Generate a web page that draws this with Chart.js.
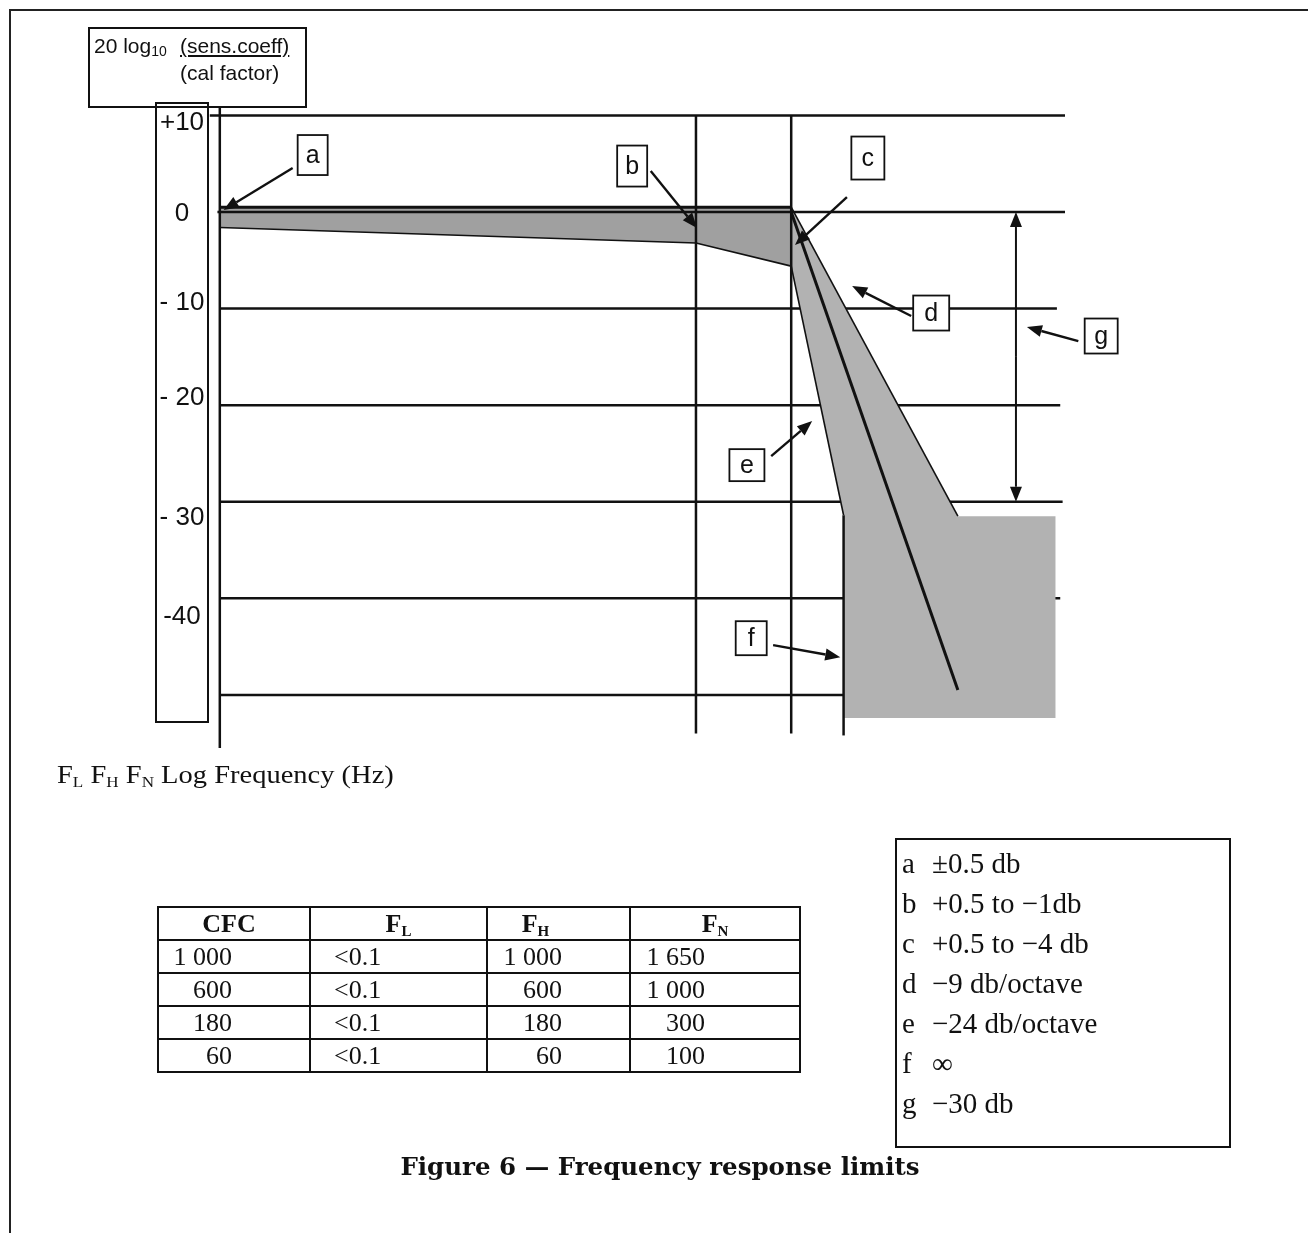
<!DOCTYPE html>
<html>
<head>
<meta charset="utf-8">
<title>Figure 6 — Frequency response limits</title>
<script src="https://cdn.jsdelivr.net/npm/chart.js@4.4.1/dist/chart.umd.min.js"></script>
<style>
  html, body { margin: 0; padding: 0; background: #fff; }
  body { position: relative; width: 1308px; height: 1233px; overflow: hidden; color: #111; }
  #frame-top { position: absolute; left: 9px; top: 9px; width: 1299px; height: 2px; background: #222; }
  #frame-left { position: absolute; left: 9px; top: 9px; width: 2px; height: 1224px; background: #222; }
  #plot { position: absolute; left: 0; top: 0; }
  #ylabel-box { position: absolute; left: 155px; top: 102px; width: 50px; height: 617px; border: 2px solid #111; }
  #header { position: absolute; left: 88px; top: 27px; width: 215px; height: 77px; border: 2px solid #111;
            font: 21px "Liberation Sans", Arial, sans-serif; }
  #header div { position: absolute; white-space: nowrap; line-height: 23px; }
  #header sub { font-size: 14px; vertical-align: -3px; line-height: 0; }
  #xlabel { position: absolute; left: 57px; top: 761px; white-space: nowrap; line-height: 26px;
            font: 25px "Liberation Serif", "Times New Roman", serif; transform-origin: 0 0; transform: scaleX(1.14); }
  #xlabel sub, #cfc sub { font-size: 15px; vertical-align: -4px; line-height: 0; }
  #cfc { position: absolute; left: 157px; top: 906px; width: 642px; table-layout: fixed; border-collapse: collapse;
         font: 26px "Liberation Serif", "Times New Roman", serif; }
  #cfc td, #cfc th { border: 2px solid #111; height: 31px; padding: 0; line-height: 31px; white-space: nowrap; }
  #cfc th { font-weight: bold; text-align: center; }
  #cfc td.c0 { text-align: right; padding-right: 77px; }
  #cfc td.c1 { text-align: left; padding-left: 23px; }
  #cfc td.c2 { text-align: right; padding-right: 67px; }
  #cfc td.c3 { text-align: right; padding-right: 94px; }
  #cfc th.h0 { padding-right: 10px; }
  #cfc th.h2 { padding-right: 46px; }
  #key { position: absolute; left: 895px; top: 838px; width: 332px; height: 303px; padding-top: 3px;
         border: 2px solid #111; font: 29px "Liberation Serif", "Times New Roman", serif; }
  #key div { height: 40px; line-height: 40px; white-space: nowrap; position: relative; }
  #key span.k { position: absolute; left: 5px; }
  #key span.t { position: absolute; left: 35px; }
  #caption { position: absolute; left: 0; width: 1320px; top: 1152px; text-align: center; line-height: 28px;
             font: bold 24.5px "DejaVu Serif", "Liberation Serif", serif; white-space: nowrap; }
</style>
</head>
<body>
<div id="frame-top"></div>
<div id="frame-left"></div>
<canvas id="plot" width="1308" height="1233"></canvas>
<div id="ylabel-box"></div>
<div id="header">
  <div style="left:4px; top:5px;">20 log<sub>10</sub></div>
  <div style="left:90px; top:5px; text-decoration: underline;">(sens.coeff)</div>
  <div style="left:90px; top:32px;">(cal factor)</div>
</div>
<div id="xlabel">F<sub>L</sub> F<sub>H</sub> F<sub>N</sub> Log Frequency (Hz)</div>
<table id="cfc">
  <colgroup><col style="width:152px"><col style="width:177px"><col style="width:143px"><col style="width:170px"></colgroup>
</table>
<div id="key"></div>
<div id="caption">Figure 6 — Frequency response limits</div>

<script>
// Horizontal position is log frequency on a schematic axis: F_L = 0, F_H = 10, F_N = 12.
// Vertical position is 20 log10(sens.coeff / cal factor) in dB.

// Corridor between F_L and F_N
const bandFreq  = [0, 10, 12];
const bandUpper = [0.5, 0.5, 0.5];
const bandLower = [-1.6, -3.2, -5.6];

// Roll-off envelope above F_N (d edge, plateau, f region, e edge)
const envelopeFreq = [12, 15.5, 17.55, 17.55, 13.1, 13.1, 12];
const envelopeDb   = [0.5, -31.5, -31.5, -52.4, -52.4, -31.4, -5.6];

// Nominal roll-off line
const nominalFreq = [12, 15.5];
const nominalDb   = [0, -49.5];

// Axis ticks and reference lines
const yTickValues = [10, 0, -10, -20, -30, -40];
const yTickLabels = ['+10', '0', '- 10', '- 20', '- 30', '-40'];
const gridDb      = [10, 0, -10, -20, -30, -40, -50];
const cornerFreq  = [0, 10, 12, 13.1];       // F_L, F_H, F_N, start of f
const rangeDb     = [0, -30];                // g span

// Table of channel frequency classes
const tableHead = [['CFC', ''], ['F', 'L'], ['F', 'H'], ['F', 'N']];
const cfcValues = ['1 000', '600', '180', '60'];
const fLValues  = ['<0.1', '<0.1', '<0.1', '<0.1'];
const fHValues  = ['1 000', '600', '180', '60'];
const fNValues  = ['1 650', '1 000', '300', '100'];

// Key
const keyLetters = ['a', 'b', 'c', 'd', 'e', 'f', 'g'];
const keyTexts   = ['±0.5 db', '+0.5 to −1db', '+0.5 to −4 db', '−9 db/octave', '−24 db/octave', '∞', '−30 db'];

// ---------- layout of the reference lines, labels and callouts (data units) ----------
const X_MIN = -0.5, X_MAX = 17.75, Y_MIN = -55.5, Y_MAX = 11.6;

const tickLabelAt = [9.2, -0.2, -9.4, -19.2, -31.7, -41.9];   // where each tick label sits
const gridExtent = {          // [from, to] along frequency for each dB line
  '10': [-0.21, 17.75], '0': [-0.05, 17.75], '-10': [0, 17.58], '-20': [0, 17.65],
  '-30': [0, 17.7], '-40': [0, 17.65], '-50': [0, 13.1]
};
const verticalExtent = [[10.8, Y_MIN], [10, -54.0], [10, -54.0], [-31.4, -54.2]];

const callouts = [
  { t: 'a', box: [1.95, 5.9],    w: 30, h: 40, tail: [1.53, 4.56],   tip: [0.08, 0.21] },
  { t: 'b', box: [8.66, 4.76],   w: 30, h: 41, tail: [9.05, 4.25],   tip: [10.02, -1.66] },
  { t: 'c', box: [13.61, 5.59],  w: 33, h: 43, tail: [13.17, 1.55],  tip: [12.08, -3.42] },
  { t: 'd', box: [14.94, -10.46], w: 36, h: 35, tail: [14.52, -10.77], tip: [13.28, -7.67] },
  { t: 'e', box: [11.07, -26.21], w: 35, h: 32, tail: [11.58, -25.27], tip: [12.44, -21.65] },
  { t: 'f', box: [11.16, -44.13], w: 31, h: 34, tail: [11.62, -44.85], tip: [13.03, -46.09] },
  { t: 'g', box: [18.51, -12.84], w: 33, h: 35, tail: [18.03, -13.36], tip: [16.95, -11.91] }
];
const rangeFreq = 16.72;

// ---------- helpers ----------
const pts = (xs, ys) => xs.map((x, i) => ({ x, y: ys[i] }));
const closed = p => p.concat([p[0]]);
const INK = '#111';

const bandPoly = closed(pts(bandFreq, bandUpper).concat(pts(bandFreq, bandLower).reverse()));
const envPoly  = closed(pts(envelopeFreq, envelopeDb));

function edge(data, width) {
  return { data, borderColor: INK, borderWidth: width, pointRadius: 0, fill: false, order: 1 };
}

function arrow(ctx, x1, y1, x2, y2, head, half) {
  const a = Math.atan2(y2 - y1, x2 - x1);
  const bx = x2 - head * Math.cos(a), by = y2 - head * Math.sin(a);
  ctx.beginPath(); ctx.moveTo(x1, y1); ctx.lineTo(bx, by); ctx.stroke();
  ctx.beginPath();
  ctx.moveTo(x2, y2);
  ctx.lineTo(bx + half * Math.sin(a), by - half * Math.cos(a));
  ctx.lineTo(bx - half * Math.sin(a), by + half * Math.cos(a));
  ctx.closePath(); ctx.fill();
}

function hLine(chart, v) {
  const { x, y } = chart.scales;
  const [f0, f1] = gridExtent[String(v)];
  const py = y.getPixelForValue(v);
  const ctx = chart.ctx;
  ctx.beginPath(); ctx.moveTo(x.getPixelForValue(f0), py); ctx.lineTo(x.getPixelForValue(f1), py); ctx.stroke();
}

const figureMarks = {
  id: 'figureMarks',
  beforeDatasetsDraw(chart) {
    const ctx = chart.ctx;
    ctx.save();
    ctx.strokeStyle = INK; ctx.lineWidth = 2.5;
    gridDb.filter(v => v < 0).forEach(v => hLine(chart, v));
    ctx.restore();
  },
  afterDatasetsDraw(chart) {
    const ctx = chart.ctx;
    const { x, y } = chart.scales;
    ctx.save();
    ctx.strokeStyle = INK; ctx.fillStyle = INK; ctx.lineWidth = 2.5;
    gridDb.filter(v => v >= 0).forEach(v => hLine(chart, v));
    cornerFreq.forEach((f, i) => {
      const px = x.getPixelForValue(f);
      ctx.beginPath();
      ctx.moveTo(px, y.getPixelForValue(verticalExtent[i][0]));
      ctx.lineTo(px, y.getPixelForValue(verticalExtent[i][1]));
      ctx.stroke();
    });

    // tick labels inside the boxed column
    ctx.font = '26px "Liberation Sans", Arial, sans-serif';
    ctx.textAlign = 'center'; ctx.textBaseline = 'middle';
    yTickValues.forEach((v, i) => ctx.fillText(yTickLabels[i], 182, y.getPixelForValue(tickLabelAt[i])));

    // g : double-headed span
    ctx.lineWidth = 2;
    const gx = x.getPixelForValue(rangeFreq);
    const g0 = y.getPixelForValue(rangeDb[0]), g1 = y.getPixelForValue(rangeDb[1]);
    arrow(ctx, gx, (g0 + g1) / 2, gx, g0, 15, 6);
    arrow(ctx, gx, (g0 + g1) / 2, gx, g1, 15, 6);

    // lettered callouts
    callouts.forEach(c => {
      ctx.lineWidth = 2.4;
      arrow(ctx, x.getPixelForValue(c.tail[0]), y.getPixelForValue(c.tail[1]),
                 x.getPixelForValue(c.tip[0]), y.getPixelForValue(c.tip[1]), 15, 6);
      const bx = x.getPixelForValue(c.box[0]), by = y.getPixelForValue(c.box[1]);
      ctx.fillStyle = '#fff';
      ctx.fillRect(bx - c.w / 2, by - c.h / 2, c.w, c.h);
      ctx.lineWidth = 1.8;
      ctx.strokeRect(bx - c.w / 2, by - c.h / 2, c.w, c.h);
      ctx.fillStyle = INK;
      ctx.font = '25px "Liberation Sans", Arial, sans-serif';
      ctx.fillText(c.t, bx, by + 1);
    });
    ctx.restore();
  }
};

new Chart(document.getElementById('plot'), {
  type: 'line',
  data: {
    datasets: [
      { data: bandPoly, backgroundColor: '#a0a0a0', borderColor: 'transparent', borderWidth: 0,
        pointRadius: 0, fill: 'shape', order: 5 },
      { data: envPoly, backgroundColor: '#b2b2b2', borderColor: 'transparent', borderWidth: 0,
        pointRadius: 0, fill: 'shape', order: 5 },
      edge(pts(bandFreq, bandUpper), 3),
      edge(pts(bandFreq, bandLower), 1.6),
      edge(envPoly.slice(0, 2), 1.6),
      edge(envPoly.slice(5, 7), 1.6),
      edge(pts(nominalFreq, nominalDb), 3)
    ]
  },
  options: {
    responsive: false,
    animation: false,
    devicePixelRatio: 1,
    events: [],
    layout: { padding: { left: 196, right: 243, top: 100, bottom: 485 } },
    elements: { line: { tension: 0 }, point: { radius: 0 } },
    scales: {
      x: { type: 'linear', min: X_MIN, max: X_MAX, display: false },
      y: { type: 'linear', min: Y_MIN, max: Y_MAX, display: false }
    },
    plugins: { legend: { display: false }, tooltip: { enabled: false } }
  },
  plugins: [figureMarks]
});

// ---------- table ----------
const tbl = document.getElementById('cfc');
const hr = tbl.insertRow();
tableHead.forEach((h, i) => {
  const th = document.createElement('th');
  th.className = 'h' + i;
  th.innerHTML = h[0] + (h[1] ? '<sub>' + h[1] + '</sub>' : '');
  hr.appendChild(th);
});
cfcValues.forEach((v, r) => {
  const row = tbl.insertRow();
  [v, fLValues[r], fHValues[r], fNValues[r]].forEach((txt, c) => {
    const td = row.insertCell();
    td.className = 'c' + c;
    td.textContent = txt;
  });
});

// ---------- key ----------
const key = document.getElementById('key');
keyLetters.forEach((k, i) => {
  const d = document.createElement('div');
  d.innerHTML = '<span class="k">' + k + '</span><span class="t">' + keyTexts[i] + '</span>';
  key.appendChild(d);
});
</script>
</body>
</html>
